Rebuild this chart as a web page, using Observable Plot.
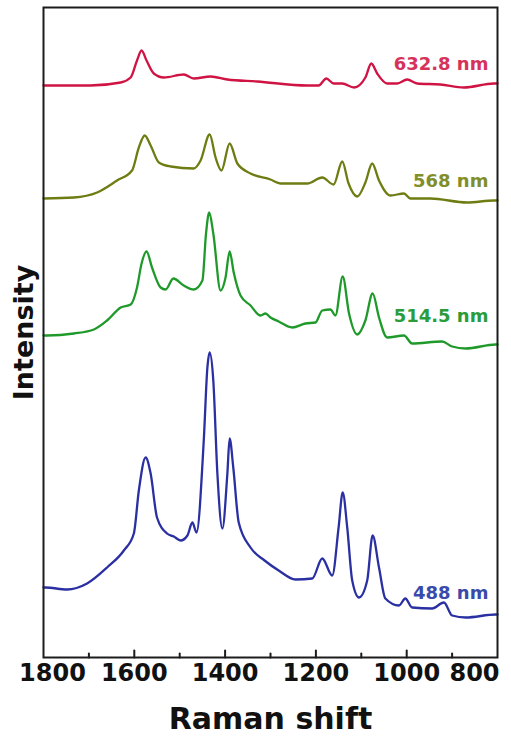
<!DOCTYPE html>
<html>
<head>
<meta charset="utf-8">
<script src="https://cdn.jsdelivr.net/npm/d3@7"></script>
<script src="https://cdn.jsdelivr.net/npm/@observablehq/plot@0.6"></script>
<style>
  body { margin: 0; background: #fff; }
</style>
</head>
<body>
<div id="chart"></div>
<script>
// SERS spectra at four excitation wavelengths, stacked with vertical offsets.
// Each entry: [Raman shift (cm-1), offset intensity (a.u.)]
const laser632 = [
  [1800, 572], [1697, 572], [1630, 575], [1608, 580], [1594, 597], [1584, 607],
  [1573, 597], [1557, 584], [1535, 580], [1491, 583], [1469, 579], [1432, 581],
  [1395, 578], [1329, 576], [1219, 572], [1194, 572], [1177, 579], [1161, 574],
  [1142, 574], [1116, 570], [1091, 580], [1078, 594], [1065, 584], [1043, 574],
  [1021, 574], [999, 578], [977, 574], [926, 573], [874, 570], [808, 574], [800, 574]
];
const laser568 = [
  [1800, 459], [1733, 460], [1682, 465], [1638, 477], [1605, 487], [1590, 510],
  [1577, 522], [1564, 512], [1546, 495], [1520, 491], [1469, 489], [1454, 497],
  [1434, 523], [1421, 500], [1408, 487], [1390, 514], [1373, 494], [1344, 484],
  [1300, 478], [1278, 474], [1219, 474], [1186, 480], [1161, 473], [1142, 496],
  [1128, 474], [1109, 461], [1091, 475], [1076, 494], [1061, 477], [1036, 462],
  [1006, 464], [992, 459], [948, 459], [867, 455], [808, 457], [800, 457]
];
const laser514 = [
  [1800, 322], [1792, 322], [1733, 324], [1689, 328], [1660, 337], [1630, 350],
  [1608, 353], [1594, 370], [1584, 394], [1573, 406], [1561, 390], [1542, 370],
  [1531, 368], [1514, 379], [1491, 372], [1469, 368], [1450, 377], [1442, 424],
  [1435, 445], [1426, 424], [1410, 367], [1399, 380], [1390, 406], [1381, 385],
  [1366, 362], [1344, 352], [1322, 342], [1311, 344], [1300, 340], [1282, 336],
  [1252, 330], [1223, 334], [1201, 335], [1186, 347], [1168, 348], [1157, 342],
  [1141, 381], [1127, 344], [1109, 323], [1091, 337], [1075, 364], [1061, 340],
  [1043, 320], [1006, 322], [988, 314], [922, 316], [900, 311], [870, 309],
  [804, 313], [800, 313]
];
const laser488 = [
  [1800, 70], [1796, 70], [1748, 68], [1704, 74], [1660, 90], [1623, 107],
  [1601, 124], [1590, 167], [1575, 200], [1564, 184], [1550, 140], [1528, 124],
  [1513, 121], [1498, 117], [1483, 122], [1472, 135], [1463, 125], [1447, 217],
  [1439, 290], [1434, 305], [1426, 277], [1417, 184], [1406, 129], [1395, 184],
  [1390, 219], [1382, 190], [1370, 135], [1344, 110], [1313, 97], [1282, 87],
  [1245, 78], [1208, 79], [1186, 99], [1164, 82], [1150, 130], [1141, 165],
  [1131, 130], [1120, 77], [1105, 60], [1087, 77], [1075, 122], [1061, 90],
  [1047, 59], [1017, 52], [1003, 59], [988, 50], [944, 49], [918, 55],
  [900, 42], [870, 40], [804, 43], [800, 43]
];

// Series names, line colours, label colours and where each label sits
const seriesNames = ["632.8 nm", "568 nm", "514.5 nm", "488 nm"];
const seriesData = [laser632, laser568, laser514, laser488];
const lineColors = ["#cf1444", "#6e7c12", "#1f9a2a", "#2a30a2"];
const labelColors = ["#d6325a", "#808f2a", "#2a9c3a", "#3a4aaa"];
const labelShift = [820, 820, 820, 820];
const labelLevel = [593, 476, 341, 64];

// Axis ticks
const majorTicks = [1800, 1600, 1400, 1200, 1000, 800];
const minorTicks = [1700, 1500, 1300, 1100, 900];
const xTitle = "Raman shift";
const yTitle = "Intensity";

const rows = seriesData.flatMap((d, i) =>
  d.map(([shift, intensity]) => ({series: seriesNames[i], shift, intensity}))
);
const labels = seriesNames.map((name, i) => ({
  name, shift: labelShift[i], level: labelLevel[i], color: labelColors[i]
}));

const font = "'DejaVu Sans', Verdana, sans-serif";
const inner = majorTicks.slice(1, -1);

// inward tick: a straight stroke drawn upward from the bottom edge
const tickShape = {
  draw(context, l) {
    context.moveTo(0, 0);
    context.lineTo(0, -l);
  }
};
const tickOpts = (len) => ({
  x: d => d, frameAnchor: "bottom", length: len, anchor: "start",
  shape: tickShape, stroke: "#1c1c1c", strokeWidth: 2
});
const tickLabel = {
  x: d => d, frameAnchor: "bottom", lineAnchor: "middle", textAnchor: "middle",
  dy: 16, text: d => String(d), fontSize: 24, fontWeight: "bold", fill: "#111"
};

const chart = Plot.plot({
  width: 511,
  height: 738,
  marginLeft: 43,
  marginRight: 14,
  marginTop: 7,
  marginBottom: 81,
  style: {fontFamily: font, background: "#fff"},
  x: {domain: [1800, 800], axis: null},
  y: {domain: [0, 650], axis: null},
  color: {domain: seriesNames, range: lineColors},
  marks: [
    Plot.line(rows, {
      x: "shift", y: "intensity", z: "series", stroke: "series",
      strokeWidth: 2.3, curve: "monotone-x"
    }),
    Plot.text(labels, {
      x: "shift", y: "level", text: "name", fill: "color",
      textAnchor: "end", fontWeight: "bold", fontSize: 18
    }),
    Plot.frame({stroke: "#1c1c1c", strokeWidth: 2}),
    Plot.vector(inner, tickOpts(7)),
    Plot.vector(minorTicks, tickOpts(4)),
    // tick labels; the end labels are nudged inward
    Plot.text(inner, tickLabel),
    Plot.text([majorTicks[0]], {...tickLabel, dx: 9}),
    Plot.text([majorTicks[majorTicks.length - 1]], {...tickLabel, dx: -23}),
    Plot.text([xTitle], {
      frameAnchor: "bottom", lineAnchor: "middle", textAnchor: "middle",
      dy: 62, text: d => d, fontSize: 30, fontWeight: "bold", fill: "#111",
      letterSpacing: "2px"
    }),
    Plot.text([yTitle], {
      frameAnchor: "left", textAnchor: "middle", lineAnchor: "middle",
      dx: -19, rotate: -90, text: d => d,
      fontSize: 27, fontWeight: "bold", fill: "#111"
    })
  ]
});

document.getElementById("chart").append(chart);
</script>
</body>
</html>
